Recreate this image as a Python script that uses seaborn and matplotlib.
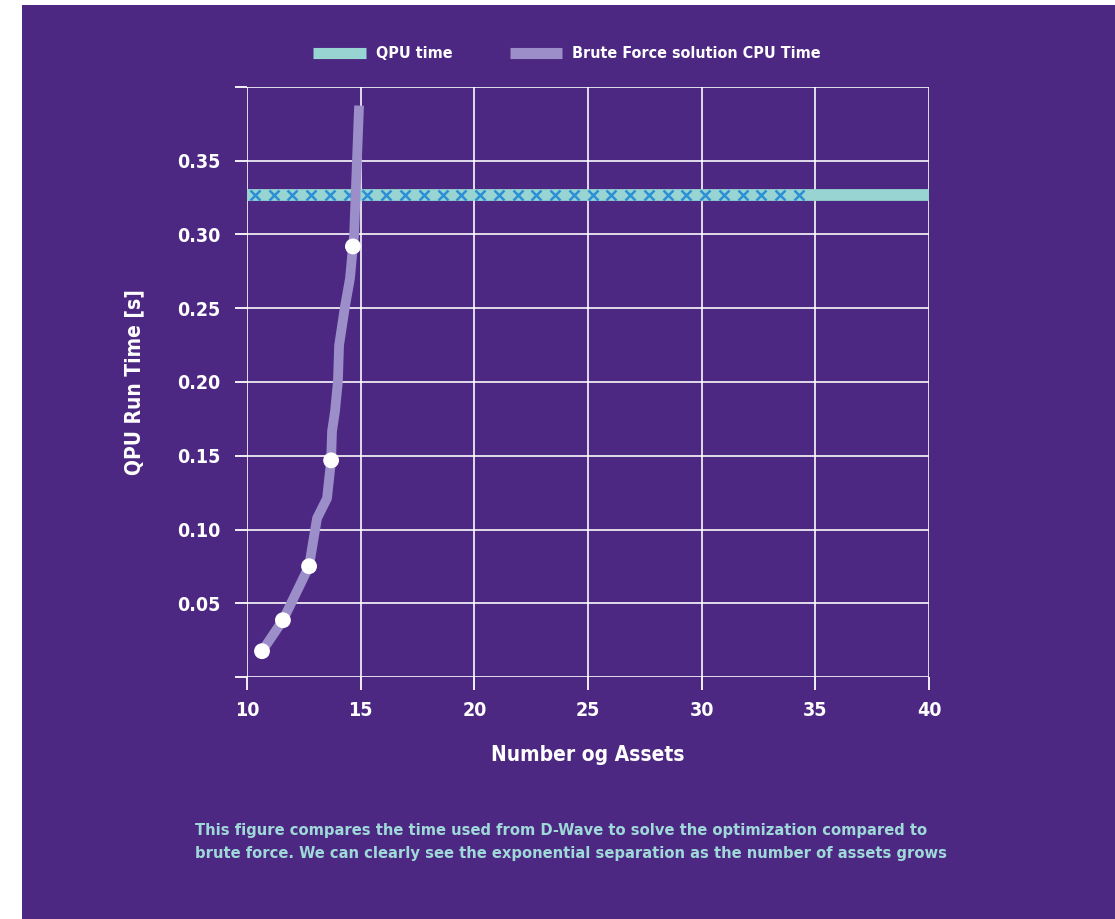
"""
QPU time vs brute force CPU time chart.
"""

import matplotlib
matplotlib.use("Agg")
import matplotlib.pyplot as plt
import seaborn as sns
import pandas as pd
from matplotlib.patches import Rectangle
from matplotlib.lines import Line2D

### Data ###

brute_assets = [10.66, 11.58, 12.73, 12.86, 13.08, 13.52, 13.70, 13.74, 13.87,
                14.00, 14.05, 14.31, 14.53, 14.66, 14.71, 14.84, 14.93]
brute_time = [0.0175, 0.0385, 0.0751, 0.0873, 0.1076, 0.1211, 0.1469, 0.1665, 0.180,
              0.2004, 0.2248, 0.2512, 0.2702, 0.2919, 0.2993, 0.3515, 0.3874]
brute_points_assets = [10.66, 11.58, 12.73, 13.70, 14.66]
brute_points_time = [0.0175, 0.0385, 0.0751, 0.1469, 0.2919]

qpu_assets = [10.0, 40.0]
qpu_time = [0.3265, 0.3265]
qpu_marker_assets = [10.35, 11.18, 12.00, 12.83, 13.65, 14.48, 15.30, 16.13, 16.95, 17.78,
                     18.60, 19.43, 20.25, 21.08, 21.90, 22.73, 23.55, 24.38, 25.20, 26.03,
                     26.85, 27.68, 28.50, 29.33, 30.15, 30.98, 31.80, 32.63, 33.45, 34.28]

x_ticks = [10, 15, 20, 25, 30, 35, 40]
y_ticks = [0.0, 0.05, 0.10, 0.15, 0.20, 0.25, 0.30, 0.35, 0.40]
y_tick_labels = ["", "0.05", "0.10", "0.15", "0.20", "0.25", "0.30", "0.35", ""]

caption = ("This figure compares the time used from D-Wave to solve the optimization compared to\n"
           "brute force. We can clearly see the exponential separation as the number of assets grows")

### Style ###

BG = "#4c2882"
TEAL = "#97d4d2"
LAVENDER = "#9c8ec9"
MARKER_BLUE = "#2d8fd6"
CAPTION = "#9fd8d8"

sns.set_style("whitegrid", {"axes.facecolor": BG, "grid.color": "white"})
plt.rcParams["font.family"] = ["DejaVu Sans"]
plt.rcParams["font.stretch"] = "condensed"
plt.rcParams["font.weight"] = "bold"

fig = plt.figure(figsize=(11.15, 9.19), dpi=100)
fig.patch.set_facecolor("white")
fig.patches.append(Rectangle((22 / 1115, 0), 1, 1 - 5 / 919, transform=fig.transFigure,
                             facecolor=BG, edgecolor="none", zorder=-10))

ax = fig.add_axes([247 / 1115, 1 - 677 / 919, 682 / 1115, 590 / 919])
ax.set_facecolor(BG)

df_qpu = pd.DataFrame({"assets": qpu_assets, "time": qpu_time})
df_brute = pd.DataFrame({"assets": brute_assets, "time": brute_time})
df_pts = pd.DataFrame({"assets": brute_points_assets, "time": brute_points_time})
df_marks = pd.DataFrame({"assets": qpu_marker_assets, "time": [qpu_time[0]] * len(qpu_marker_assets)})

sns.lineplot(data=df_qpu, x="assets", y="time", ax=ax, color=TEAL, linewidth=8.5,
             solid_capstyle="butt", zorder=3)
ax.plot(df_marks["assets"], df_marks["time"], linestyle="none", marker="x",
        color=MARKER_BLUE, markersize=7, markeredgewidth=1.8, zorder=4)
sns.lineplot(data=df_brute, x="assets", y="time", ax=ax, color=LAVENDER, linewidth=7,
             sort=False, solid_capstyle="butt", solid_joinstyle="round", zorder=5)
sns.scatterplot(data=df_pts, x="assets", y="time", ax=ax, color="white", s=130,
                edgecolor="none", zorder=6)

ax.set_xlim(10, 40)
ax.set_ylim(0, 0.40)
ax.set_xticks(x_ticks)
ax.set_yticks(y_ticks)
ax.set_yticklabels(y_tick_labels)
ax.grid(True, color="white", linewidth=1.3, alpha=0.9)
for spine in ax.spines.values():
    spine.set_visible(False)
ax.tick_params(axis="both", bottom=True, left=True, colors="white", length=9, width=1.3,
               direction="out", labelsize=14, pad=6)
ax.tick_params(axis="y", pad=10)
ax.tick_params(axis="x", pad=8)

ax.set_xlabel("Number og Assets", color="white", fontsize=15, fontweight="bold", labelpad=18)
ax.set_ylabel("QPU Run Time [s]", color="white", fontsize=15, fontweight="bold", labelpad=24)

handles = [Line2D([], [], color=TEAL, linewidth=8, solid_capstyle="butt"),
           Line2D([], [], color=LAVENDER, linewidth=8, solid_capstyle="butt")]
leg = fig.legend(handles, ["QPU time", "Brute Force solution CPU Time"], loc="center",
                 bbox_to_anchor=(567 / 1115, 1 - 54 / 919), ncol=2, frameon=False,
                 fontsize=11.5, handlelength=3.3, columnspacing=3.6, handletextpad=0.6)
for text in leg.get_texts():
    text.set_color("white")

fig.text(195 / 1115, 1 - 842 / 919, caption, color=CAPTION, fontsize=11.8,
         fontweight="bold", va="center", ha="left", linespacing=1.6)

fig.savefig("out.png", dpi=100, facecolor=fig.get_facecolor())
